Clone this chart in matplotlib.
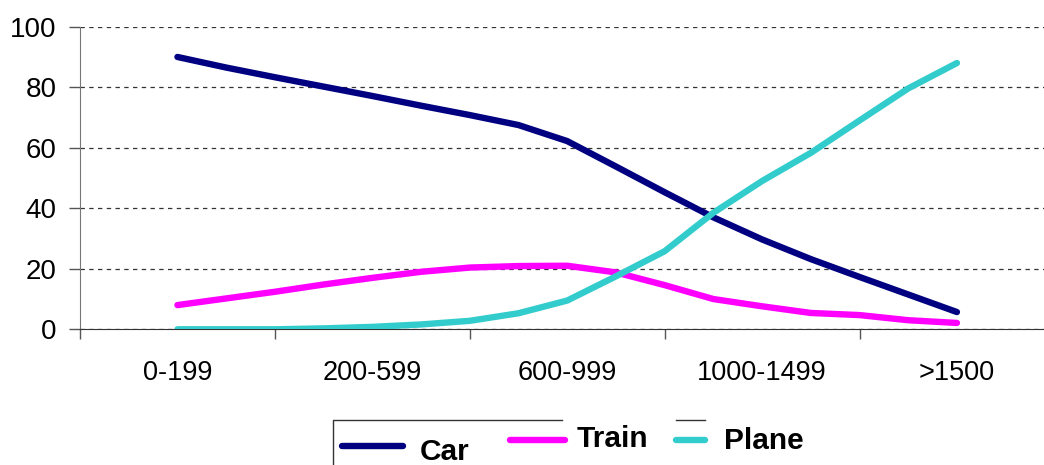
"""Mode share by trip distance band."""

import matplotlib

matplotlib.use("Agg")
import matplotlib.pyplot as plt
from matplotlib.lines import Line2D

plt.rcParams["font.family"] = ["Liberation Sans", "DejaVu Sans"]

bands = ["0-199", "200-599", "600-999", "1000-1499", ">1500"]

# share (%) sampled every quarter band
steps = [i / 4 for i in range(17)]
car = [90.0, 86.5, 83.3, 80.2, 77.1, 73.9, 70.8, 67.5, 62.2, 53.8, 45.3, 37.0,
       29.7, 23.2, 17.3, 11.5, 5.7]
train = [8.0, 10.2, 12.4, 14.8, 17.0, 19.0, 20.4, 20.9, 21.0, 18.8, 14.6, 10.0,
         7.6, 5.4, 4.7, 3.0, 2.1]
plane = [0.0, 0.0, 0.0, 0.3, 0.8, 1.6, 2.8, 5.3, 9.5, 17.5, 25.8, 38.5, 49.0,
         58.3, 69.0, 79.6, 88.0]

series = [("Car", car, "#000080"), ("Train", train, "#ff00ff"),
          ("Plane", plane, "#33cccc")]

W, H = 1044, 465
fig = plt.figure(figsize=(W / 100, H / 100), dpi=100)
ax = fig.add_axes([80 / W, (H - 329.3) / H, 964 / W, 302.6 / H])

for name, vals, col in series:
    ax.plot(steps, vals, color=col, lw=4.6, solid_capstyle="round",
            solid_joinstyle="round", zorder=3)

ax.set_xlim(-0.5, (W - 178) / 194.75)
ax.set_ylim(0, 100)
ax.set_yticks(range(0, 101, 20))
ax.yaxis.grid(True, linestyle=(0, (3.5, 3.5)), color="#333333", lw=0.9)
ax.set_axisbelow(True)

ax.set_xticks([i - 0.5 for i in range(5)])
ax.set_xticklabels([])
ax.set_xticks(range(5), minor=True)
ax.set_xticklabels(bands, minor=True)
ax.tick_params(axis="x", which="major", length=7, color="#555555", width=1)
ax.tick_params(axis="x", which="minor", length=0, pad=22, labelsize=19.5)
ax.tick_params(axis="y", length=8, color="#555555", width=1, pad=9,
               labelsize=20)

for side in ("top", "right"):
    ax.spines[side].set_visible(False)
ax.spines["left"].set_color("#777777")
ax.spines["bottom"].set_color("#333333")


def fig_line(xs, ys, **kw):
    fig.add_artist(Line2D([x / W for x in xs], [1 - y / H for y in ys],
                          transform=fig.transFigure, **kw))


# legend frame, partly hidden behind the entry texts and the bottom edge
frame = dict(color="#333333", lw=1, zorder=1)
fig_line([333, 333, 562], [470, 420, 420], **frame)
fig_line([676, 705], [420, 420], **frame)

entries = [(342, 403, 446, 420, 452), (510, 565, 440, 577, 439),
           (676, 705, 440, 724, 441)]
for (name, _, col), (x0, x1, ly, tx, ty) in zip(series, entries):
    fig_line([x0, x1], [ly, ly], color=col, lw=4.6, solid_capstyle="round",
             zorder=3)
    fig.text(tx / W, 1 - ty / H, name, fontsize=21.5, fontweight="bold",
             va="center", ha="left", zorder=4)

fig.savefig("out.png", dpi=100)
